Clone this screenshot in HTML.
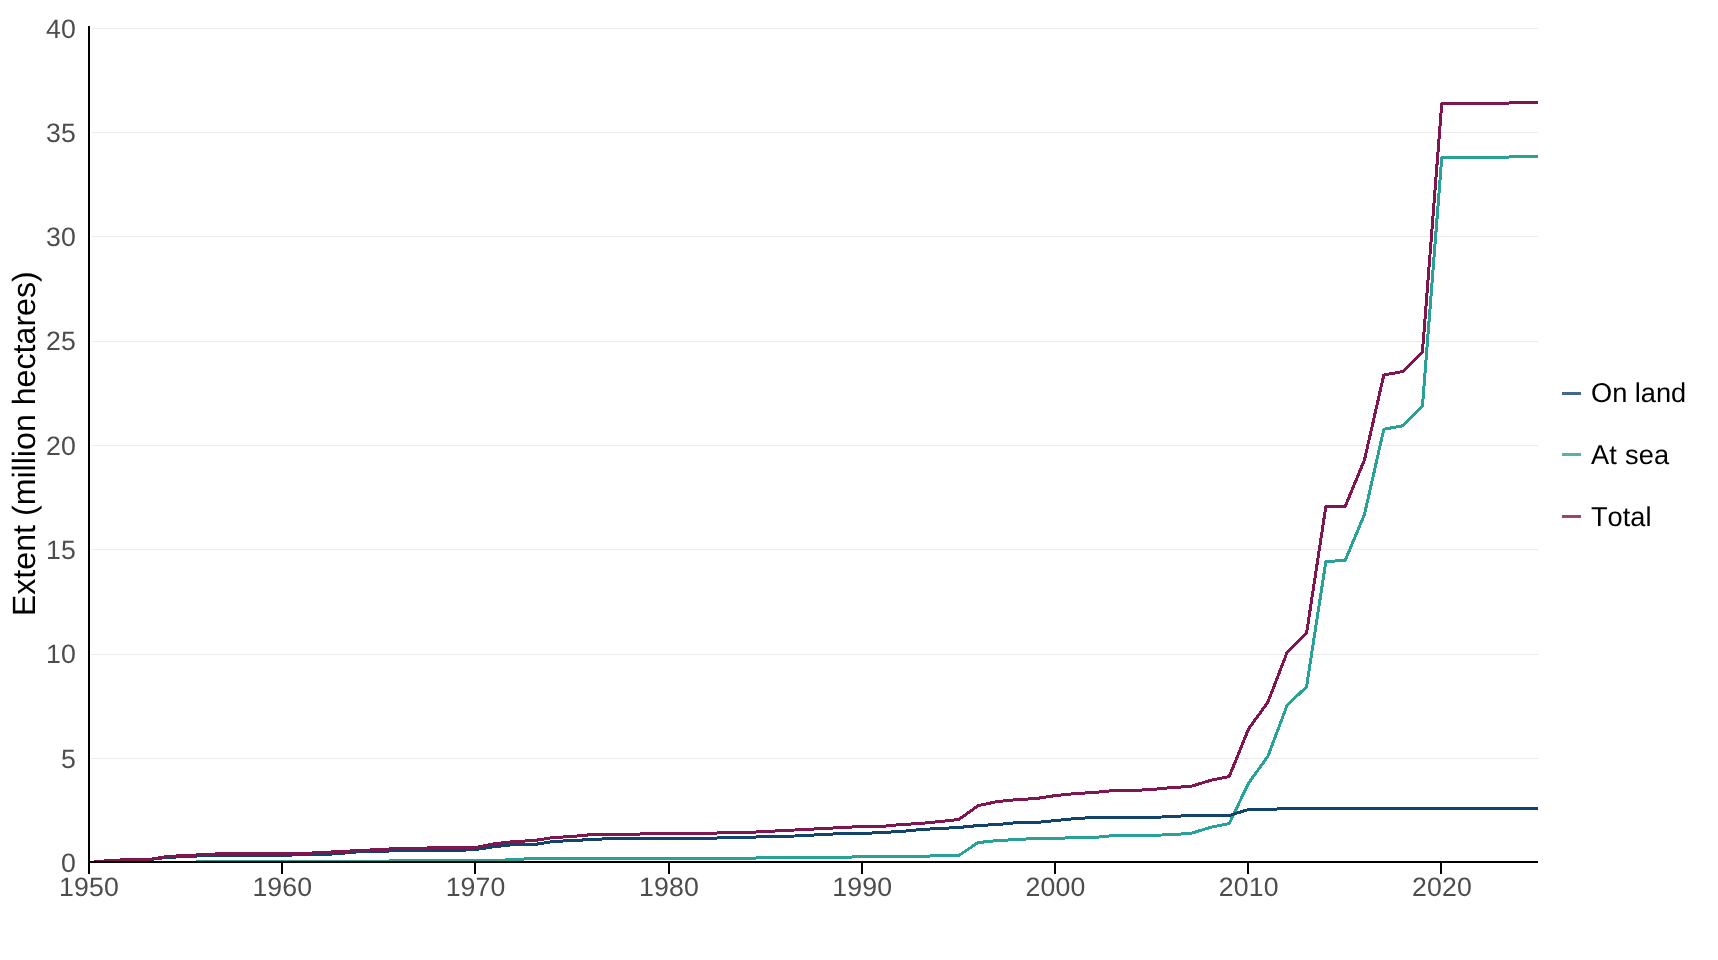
<!DOCTYPE html>
<html lang="en"><head><meta charset="utf-8"><title>Extent of protected areas</title>
<style>
html,body{margin:0;padding:0;background:#fff;}
body{width:1718px;height:960px;overflow:hidden;}
svg{display:block;will-change:transform;text-rendering:geometricPrecision;font-kerning:none;font-family:"Liberation Sans",Arial,sans-serif;}
.tick{font-size:26.67px;fill:#4d4d4d;letter-spacing:0.17px;}
.leg{font-size:27.2px;fill:#000;}
.ttl{font-size:32.16px;fill:#000;}
.ln{fill:none;stroke-width:3;stroke-linejoin:round;stroke-linecap:butt;}
</style></head><body>
<svg width="1718" height="960" viewBox="0 0 1718 960">
<rect width="1718" height="960" fill="#fff"/>
<g fill="#ebebeb" shape-rendering="crispEdges"><rect x="91" y="28" width="1447" height="1"/><rect x="91" y="132" width="1447" height="1"/><rect x="91" y="236" width="1447" height="1"/><rect x="91" y="341" width="1447" height="1"/><rect x="91" y="445" width="1447" height="1"/><rect x="91" y="549" width="1447" height="1"/><rect x="91" y="654" width="1447" height="1"/><rect x="91" y="758" width="1447" height="1"/></g>
<clipPath id="pc"><rect x="88" y="20" width="1450" height="843"/></clipPath>
<g shape-rendering="crispEdges" clip-path="url(#pc)">
<polyline class="ln" stroke="#28a197" points="89.50,862.50 108.82,862.50 128.14,862.50 147.45,862.50 166.77,862.50 186.09,862.50 205.41,861.52 224.73,861.52 244.04,861.52 263.36,861.51 282.68,861.51 302.00,861.51 321.32,861.51 340.63,861.50 359.95,861.50 379.27,861.50 398.59,860.50 417.91,860.50 437.22,860.50 456.54,860.50 475.86,860.50 495.18,860.50 514.50,859.50 533.81,858.50 553.13,858.50 572.45,858.50 591.77,858.50 611.09,858.50 630.40,858.50 649.72,858.50 669.04,858.50 688.36,858.50 707.68,858.50 726.99,858.50 746.31,858.50 765.63,857.50 784.95,857.50 804.27,857.50 823.58,857.50 842.90,857.50 862.22,856.50 881.54,856.50 900.86,856.50 920.17,856.50 939.49,855.50 958.81,855.50 978.13,842.54 997.45,840.60 1016.76,839.47 1036.08,838.50 1055.40,838.50 1074.72,837.50 1094.04,837.54 1113.35,835.60 1132.67,835.50 1151.99,835.50 1171.31,834.50 1190.63,833.50 1209.94,827.50 1229.26,823.50 1248.58,783.10 1267.90,756.30 1287.22,705.00 1306.53,686.90 1325.85,561.50 1345.17,560.50 1364.49,514.40 1383.81,429.20 1403.12,425.70 1422.44,406.20 1441.76,157.50 1461.08,157.50 1480.40,157.50 1499.71,157.40 1519.03,156.60 1538.35,156.50"/>
<polyline class="ln" stroke="#12436d" points="89.50,862.50 108.82,860.58 128.14,859.60 147.45,859.70 166.77,857.50 186.09,856.50 205.41,855.60 224.73,855.50 244.04,855.50 263.36,855.50 282.68,855.35 302.00,854.65 321.32,854.61 340.63,853.48 359.95,851.56 379.27,851.50 398.59,850.50 417.91,850.50 437.22,850.50 456.54,850.50 475.86,849.54 495.18,846.57 514.50,844.53 533.81,844.57 553.13,841.57 572.45,840.50 591.77,839.55 611.09,838.50 630.40,838.50 649.72,838.50 669.04,838.50 688.36,838.50 707.68,838.50 726.99,837.50 746.31,837.50 765.63,836.50 784.95,836.50 804.27,835.50 823.58,834.50 842.90,833.50 862.22,833.50 881.54,832.50 900.86,831.50 920.17,829.58 939.49,828.50 958.81,827.48 978.13,825.54 997.45,824.54 1016.76,822.60 1036.08,822.52 1055.40,820.60 1074.72,818.60 1094.04,817.50 1113.35,817.50 1132.67,817.50 1151.99,817.50 1171.31,816.50 1190.63,815.50 1209.94,815.50 1229.26,815.50 1248.58,809.50 1267.90,809.50 1287.22,808.50 1306.53,808.50 1325.85,808.50 1345.17,808.50 1364.49,808.50 1383.81,808.50 1403.12,808.50 1422.44,808.50 1441.76,808.50 1461.08,808.50 1480.40,808.50 1499.71,808.50 1519.03,808.50 1538.35,808.50"/>
<polyline class="ln" stroke="#801650" points="89.50,862.50 108.82,860.58 128.14,859.60 147.45,859.70 166.77,856.50 186.09,855.50 205.41,854.50 224.73,853.50 244.04,853.50 263.36,853.50 282.68,853.50 302.00,853.50 321.32,852.55 340.63,851.50 359.95,850.50 379.27,849.50 398.59,848.50 417.91,848.30 437.22,847.70 456.54,847.50 475.86,847.50 495.18,843.60 514.50,841.55 533.81,840.57 553.13,837.57 572.45,836.50 591.77,834.60 611.09,834.50 630.40,834.50 649.72,833.50 669.04,833.50 688.36,833.50 707.68,833.50 726.99,832.50 746.31,832.50 765.63,831.50 784.95,830.50 804.27,829.50 823.58,828.50 842.90,827.50 862.22,826.50 881.54,826.47 900.86,824.55 920.17,823.50 939.49,821.55 958.81,819.52 978.13,805.70 997.45,801.56 1016.76,799.60 1036.08,798.55 1055.40,795.55 1074.72,793.60 1094.04,792.50 1113.35,790.60 1132.67,790.50 1151.99,789.52 1171.31,787.60 1190.63,786.47 1209.94,780.50 1229.26,776.50 1248.58,728.90 1267.90,702.10 1287.22,652.10 1306.53,633.30 1325.85,506.50 1345.17,506.50 1364.49,459.80 1383.81,375.00 1403.12,371.50 1422.44,351.90 1441.76,103.50 1461.08,103.50 1480.40,103.50 1499.71,103.40 1519.03,102.60 1538.35,102.50"/>
</g>
<g fill="#000" shape-rendering="crispEdges">
<rect x="88" y="26" width="2" height="848"/>
<rect x="88" y="861" width="1450" height="2"/>
<rect x="88" y="862" width="2" height="12"/><rect x="281" y="862" width="2" height="12"/><rect x="474" y="862" width="2" height="12"/><rect x="668" y="862" width="2" height="12"/><rect x="861" y="862" width="2" height="12"/><rect x="1054" y="862" width="2" height="12"/><rect x="1247" y="862" width="2" height="12"/><rect x="1440" y="862" width="2" height="12"/>
</g>
<g class="tick"><text x="75.9" y="37.61" text-anchor="end">40</text><text x="75.9" y="141.89" text-anchor="end">35</text><text x="75.9" y="246.18" text-anchor="end">30</text><text x="75.9" y="350.47" text-anchor="end">25</text><text x="75.9" y="454.75" text-anchor="end">20</text><text x="75.9" y="559.03" text-anchor="end">15</text><text x="75.9" y="663.32" text-anchor="end">10</text><text x="75.9" y="767.61" text-anchor="end">5</text><text x="75.9" y="871.89" text-anchor="end">0</text></g>
<g class="tick"><text x="89.1" y="895.6" text-anchor="middle">1950</text><text x="282.37" y="895.6" text-anchor="middle">1960</text><text x="475.63" y="895.6" text-anchor="middle">1970</text><text x="668.9" y="895.6" text-anchor="middle">1980</text><text x="862.16" y="895.6" text-anchor="middle">1990</text><text x="1055.43" y="895.6" text-anchor="middle">2000</text><text x="1248.69" y="895.6" text-anchor="middle">2010</text><text x="1441.96" y="895.6" text-anchor="middle">2020</text></g>
<text class="ttl" transform="translate(34.7,443.7) rotate(-90)" text-anchor="middle">Extent (million hectares)</text>
<g shape-rendering="crispEdges">
<rect x="1562" y="392" width="19" height="3" fill="#41698a"/>
<rect x="1562" y="453" width="19" height="3" fill="#53b4ac"/>
<rect x="1562" y="515" width="19" height="3" fill="#994573"/>
</g>
<g class="leg">
<text x="1591" y="402">On land</text>
<text x="1591" y="463.5" letter-spacing="0.22">At sea</text>
<text x="1591" y="525.5">Total</text>
</g>
</svg>
</body></html>
